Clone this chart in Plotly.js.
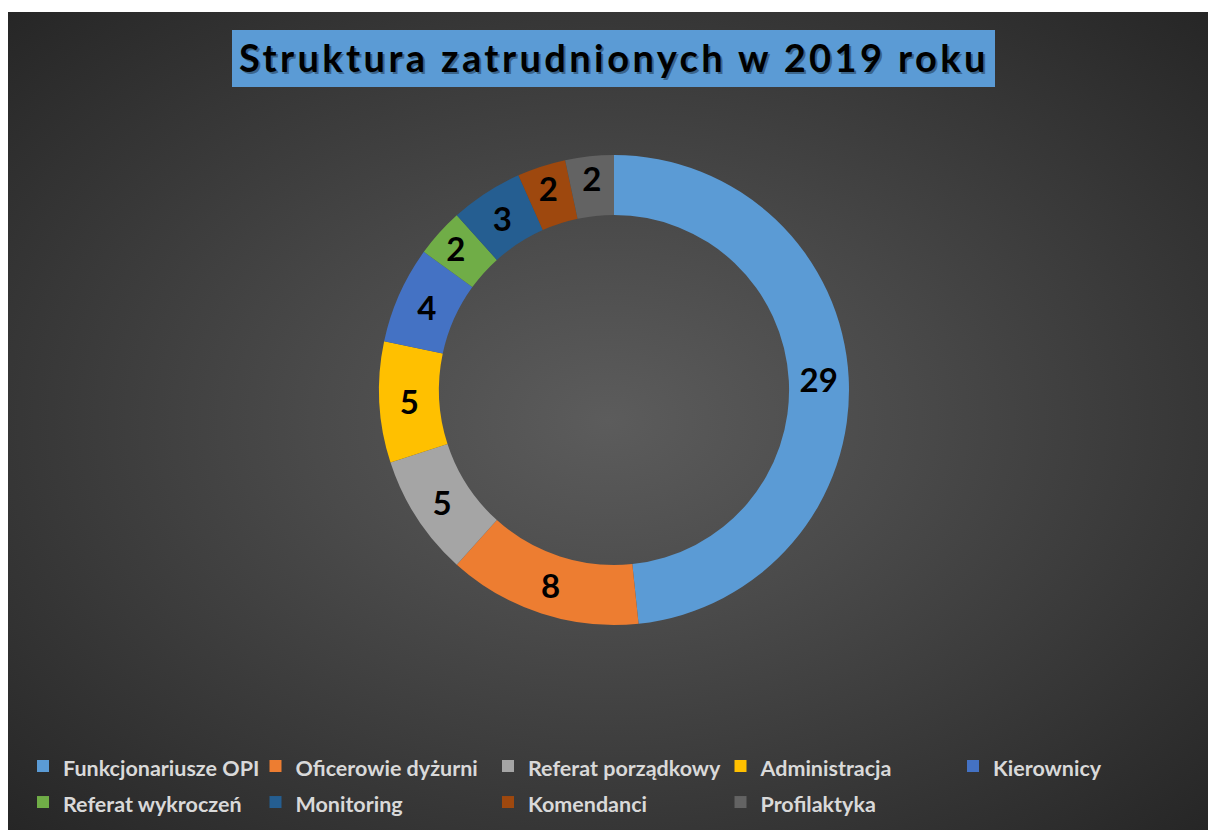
<!DOCTYPE html>
<html>
<head>
<meta charset="utf-8">
<script src="https://cdn.plot.ly/plotly-3.0.1.min.js"></script>
<style>
  html, body { margin: 0; padding: 0; background: #ffffff; }
  #chart {
    position: absolute; left: 8px; top: 12px; width: 1200px; height: 818px;
    background: radial-gradient(ellipse farthest-corner at 50% 50%, #5c5c5c 0%, #4a4a4a 35%, #262626 100%);
  }
</style>
</head>
<body>
<div id="chart"></div>
<script>
const categories = ["Funkcjonariusze OPI", "Oficerowie dyżurni", "Referat porządkowy", "Administracja", "Kierownicy", "Referat wykroczeń", "Monitoring", "Komendanci", "Profilaktyka"];
const values = [29, 8, 5, 5, 4, 2, 3, 2, 2];
const colors = ["#5b9bd5", "#ed7d31", "#a5a5a5", "#ffc000", "#4472c4", "#70ad47", "#255e91", "#9e480e", "#636363"];
const titleText = "Struktura zatrudnionych w 2019 roku";

const W = 1200, H = 818;
const cx = 606, cy = 378, R = 235;

const trace = {
  type: "pie",
  labels: categories.map(c => '<span style="font-size:21.5px">' + c + '</span>'),
  values: values,
  sort: false,
  direction: "clockwise",
  rotation: 0,
  hole: 0.745,
  marker: { colors: colors, line: { width: 0 } },
  textinfo: "value",
  textposition: "inside",
  insidetextorientation: "horizontal",
  textfont: { family: "Lato", size: 33, color: "#000000", weight: "bold" },
  hoverinfo: "label+value",
  domain: {
    x: [(cx - R) / W, (cx + R) / W],
    y: [(H - cy - R) / H, (H - cy + R) / H]
  }
};

const layout = {
  width: W, height: H,
  margin: { l: 0, r: 0, t: 0, b: 0 },
  paper_bgcolor: "rgba(0,0,0,0)",
  plot_bgcolor: "rgba(0,0,0,0)",
  showlegend: true,
  legend: {
    orientation: "h",
    x: 15 / W, xanchor: "left",
    y: (H - 731) / H, yanchor: "top",
    entrywidth: 187.5, entrywidthmode: "pixels",
    font: { family: "Lato", size: 25.4, color: "#d9d9d9", weight: "bold" },
    tracegroupgap: 0,
    itemclick: false
  },
  shapes: [{
    type: "rect", xref: "paper", yref: "paper",
    x0: 224 / W, x1: 987 / W, y0: (H - 75) / H, y1: (H - 18) / H,
    fillcolor: "#5b9bd5", line: { width: 0 }
  }],
  annotations: [
    {
      xref: "paper", yref: "paper", x: 607.5 / W, y: (H - 47) / H,
      xanchor: "center", yanchor: "middle", showarrow: false,
      text: '<span style="letter-spacing:3.4px">' + titleText + '</span>',
      font: { family: "Lato", size: 38, color: "rgba(0,0,0,0.35)", weight: "bold" }
    },
    {
      xref: "paper", yref: "paper", x: 605.5 / W, y: (H - 45) / H,
      xanchor: "center", yanchor: "middle", showarrow: false,
      text: '<span style="letter-spacing:3.4px">' + titleText + '</span>',
      font: { family: "Lato", size: 38, color: "#000000", weight: "bold" }
    }
  ]
};

Plotly.newPlot("chart", [trace], layout, { displayModeBar: false, staticPlot: true });
</script>
</body>
</html>
